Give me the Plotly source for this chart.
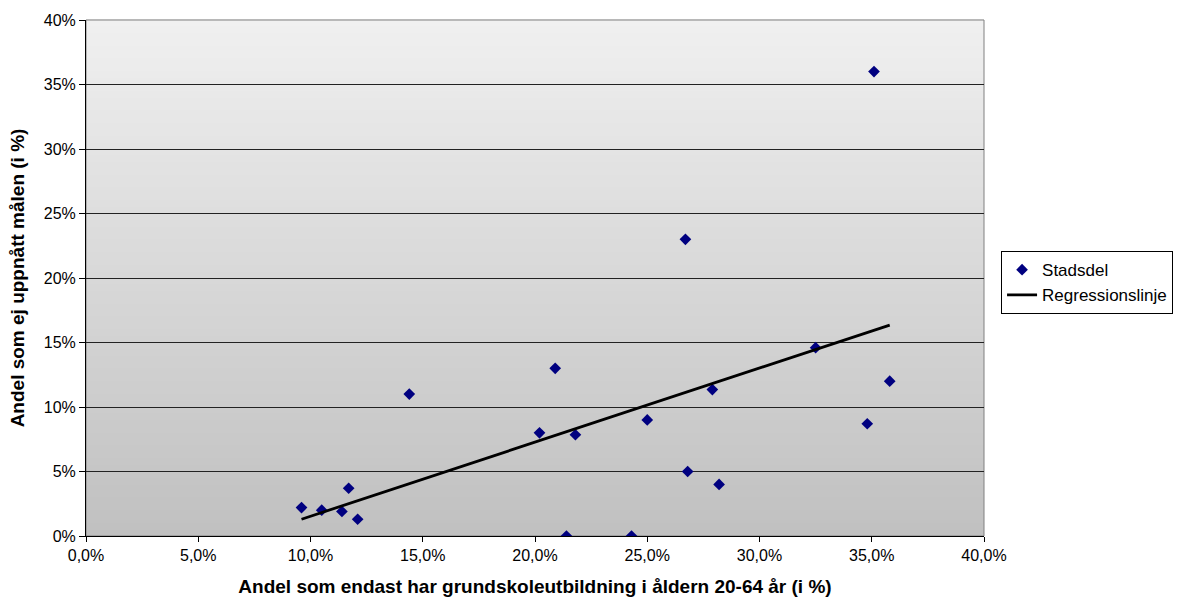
import plotly.graph_objects as go

# Data (percent)
stadsdel_x = [9.6, 10.5, 11.4, 11.7, 12.1, 14.4, 20.2, 20.9, 21.4, 21.8,
              24.3, 25.0, 26.7, 26.8, 27.9, 28.2, 32.5, 34.8, 35.1, 35.8]
stadsdel_y = [2.2, 2.0, 1.9, 3.7, 1.3, 11.0, 8.0, 13.0, 0.0, 7.85,
              0.0, 9.0, 23.0, 5.0, 11.35, 4.0, 14.6, 8.7, 36.0, 12.0]
reg_x = [9.6, 35.8]
reg_y = [1.3, 16.35]

x_ticks = [0, 5, 10, 15, 20, 25, 30, 35, 40]
x_labels = ["0,0%", "5,0%", "10,0%", "15,0%", "20,0%", "25,0%", "30,0%", "35,0%", "40,0%"]
y_ticks = [0, 5, 10, 15, 20, 25, 30, 35, 40]
y_labels = ["0%", "5%", "10%", "15%", "20%", "25%", "30%", "35%", "40%"]

FONT = "Liberation Sans, Arial, sans-serif"

fig = go.Figure()
fig.add_trace(go.Scatter(
    x=stadsdel_x, y=stadsdel_y, mode="markers", name="Stadsdel",
    marker=dict(symbol="diamond", size=9, color="#000080",
                line=dict(width=0)),
))
fig.add_trace(go.Scatter(
    x=reg_x, y=reg_y, mode="lines", name="Regressionslinje",
    line=dict(color="black", width=2.8),
))

# vertical gradient background via thin bands
shapes = []
n = 80
top = (240, 240, 240)
bot = (192, 192, 192)
for i in range(n):
    t = (i + 0.5) / n
    c = tuple(round(bot[k] + (top[k] - bot[k]) * t) for k in range(3))
    shapes.append(dict(type="rect", xref="x domain", yref="y domain",
                       x0=0, x1=1, y0=i / n, y1=(i + 1) / n + 0.002,
                       fillcolor="rgb(%d,%d,%d)" % c, line=dict(width=0),
                       layer="below"))
# gray frame (top/right)
shapes.append(dict(type="rect", xref="x domain", yref="y domain",
                   x0=0, x1=1, y0=0, y1=1,
                   line=dict(color="#808080", width=1), layer="below"))

fig.update_layout(
    width=1189, height=599,
    margin=dict(l=86, r=205, t=20, b=63, autoexpand=False),
    paper_bgcolor="white", plot_bgcolor="white",
    font=dict(family=FONT, size=16, color="black"),
    shapes=shapes,
    showlegend=True,
    legend=dict(x=1.019, y=0.552, xanchor="left", yanchor="top",
                bordercolor="black", borderwidth=1, bgcolor="white",
                font=dict(family=FONT, size=17, color="black"),
                itemwidth=30, tracegroupgap=0),
    xaxis=dict(range=[0, 40], tickmode="array", tickvals=x_ticks,
               ticktext=x_labels, showgrid=False, zeroline=False,
               showline=True, linecolor="black", linewidth=1,
               ticks="outside", ticklen=5, tickcolor="black",
               automargin=False,
               tickfont=dict(family=FONT, size=16),
               title=dict(text="<b>Andel som endast har grundskoleutbildning i åldern 20-64 år (i %)</b>",
                          font=dict(family=FONT, size=19), standoff=16)),
    yaxis=dict(range=[0, 40], tickmode="array", tickvals=y_ticks,
               ticktext=y_labels, showgrid=True, gridcolor="#222222",
               gridwidth=1, zeroline=False,
               showline=True, linecolor="black", linewidth=1,
               ticks="outside", ticklen=6, tickcolor="black",
               automargin=False,
               tickfont=dict(family=FONT, size=16),
               title=dict(text="<b>Andel som ej uppnått målen (i %)</b>",
                          font=dict(family=FONT, size=19), standoff=14)),
)

fig.write_html("out.html")
